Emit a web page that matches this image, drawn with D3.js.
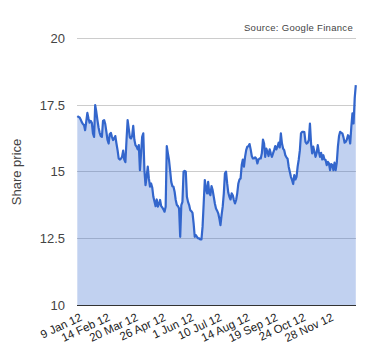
<!DOCTYPE html>
<html><head><meta charset="utf-8">
<script src="https://cdn.jsdelivr.net/npm/d3@7"></script>
<style>body{margin:0;background:#fff}svg{display:block}</style>
</head><body>
<script>
const tickLabels = ["9 Jan 12","14 Feb 12","20 Mar 12","26 Apr 12","1 Jun 12","10 Jul 12","14 Aug 12","19 Sep 12","24 Oct 12","28 Nov 12"];
const tickIndices = [4,29,54,79,104,129,154,179,204,229];
const yTicks = [10,12.5,15,17.5,20];
const prices = [
17.09,17.06,17.04,16.96,16.86,16.79,16.75,16.56,16.88,17.21,
17.0,16.84,16.91,16.84,16.44,16.31,17.5,17.25,16.94,16.66,
16.46,16.34,16.31,16.91,16.94,16.79,16.5,16.19,16.06,16.41,
16.46,16.31,16.19,16.25,16.34,16.06,15.81,15.5,15.46,15.49,
15.56,15.79,15.46,15.36,16.19,16.94,16.62,16.29,16.25,16.34,
16.72,16.21,16.0,15.94,15.84,16.0,15.06,15.69,16.31,16.44,
15.06,14.5,14.81,15.19,14.75,14.44,14.56,14.41,14.06,13.88,
13.71,13.96,13.69,13.79,13.94,13.71,13.66,13.59,13.5,13.69,
15.96,15.69,15.44,15.04,14.62,14.46,14.44,14.25,13.94,13.75,
13.71,13.62,12.56,13.75,13.87,15.0,15.03,15.0,14.06,13.87,
13.75,13.56,13.52,13.46,13.06,12.56,12.62,12.56,12.5,12.5,
12.46,12.46,12.94,13.81,14.69,14.38,14.19,14.62,14.19,14.12,
14.46,14.31,14.06,13.81,13.62,13.54,13.44,13.25,13.0,13.37,
13.69,14.19,14.94,15.0,14.56,14.21,14.06,13.96,14.19,14.12,
13.94,13.81,13.94,14.19,14.56,14.71,14.75,15.25,15.46,15.19,
15.56,15.81,15.94,15.96,16.04,15.84,15.59,15.5,15.5,15.54,
15.5,15.31,15.46,15.5,15.5,15.69,16.21,16.06,15.56,15.87,
15.75,15.59,15.84,15.69,15.56,15.69,15.81,15.96,15.84,15.94,
16.09,15.91,16.44,16.06,15.87,15.81,15.62,15.54,15.49,15.19,
15.0,14.81,14.69,14.54,14.87,14.71,14.81,15.19,15.46,15.81,
16.44,16.5,16.5,16.49,16.12,16.06,16.09,16.19,16.81,16.06,
15.69,15.94,15.75,15.56,15.71,16.0,15.75,15.56,15.71,15.46,
15.62,15.46,15.44,15.25,15.37,15.31,15.06,15.29,15.25,15.06,
15.34,15.06,15.34,15.94,16.34,16.5,16.46,16.44,16.29,16.09,
16.12,16.21,16.37,16.31,16.06,16.69,17.19,16.81,17.75,18.25
];

const W = 380, H = 360;
const svg = d3.select("body").append("svg").attr("width", W).attr("height", H);
const font = "Arial, 'Liberation Sans', sans-serif";

const x = d3.scaleLinear().domain([0, prices.length - 1]).range([77.3, 355.8]);
const y = d3.scaleLinear().domain([10, 20]).range([305, 38.5]);

// gridlines
svg.append("g").selectAll("line").data(yTicks.filter(d => d !== 10)).join("line")
  .attr("x1", 77).attr("x2", 356)
  .attr("y1", d => y(d)).attr("y2", d => y(d))
  .attr("stroke", "#cccccc").attr("stroke-width", 1).attr("shape-rendering", "crispEdges");

// area
const area = d3.area().x((d, i) => x(i)).y0(y(10)).y1(d => y(d));
svg.append("path").datum(prices).attr("d", area)
  .attr("fill", "#3366cc").attr("fill-opacity", 0.3);

// line
const line = d3.line().x((d, i) => x(i)).y(d => y(d));
svg.append("path").datum(prices).attr("d", line)
  .attr("fill", "none").attr("stroke", "#3366cc").attr("stroke-width", 2.2)
  .attr("stroke-linejoin", "round");

// baseline
svg.append("line").attr("x1", 77).attr("x2", 356).attr("y1", y(10)).attr("y2", y(10))
  .attr("stroke", "#333333").attr("stroke-width", 1).attr("shape-rendering", "crispEdges");

// y labels
const yAxis = d3.axisLeft(y).tickValues(yTicks).tickSize(0).tickPadding(12)
  .tickFormat(d => d3.format("")(d));
const gy = svg.append("g").attr("transform", "translate(77,0)").call(yAxis);
gy.select(".domain").remove();
gy.selectAll("text").attr("font-family", font).attr("font-size", 13).attr("fill", "#444444");

// y title
svg.append("text").attr("transform", "translate(21,172) rotate(-90)")
  .attr("text-anchor", "middle").attr("font-family", font).attr("font-size", 13)
  .attr("fill", "#444444").text("Share price");

// x labels
svg.append("g").selectAll("text").data(tickIndices).join("text")
  .attr("transform", d => `translate(${x(d) + 1},${320}) rotate(-25)`)
  .attr("text-anchor", "end").attr("font-family", font).attr("font-size", 11.5)
  .attr("fill", "#222222").text((d, i) => tickLabels[i]);

// source
svg.append("text").attr("x", 353).attr("y", 31).attr("text-anchor", "end")
  .attr("font-family", font).attr("font-size", 9.5).attr("letter-spacing", 0.3)
  .attr("fill", "#444444").text("Source: Google Finance");
</script>
</body></html>
